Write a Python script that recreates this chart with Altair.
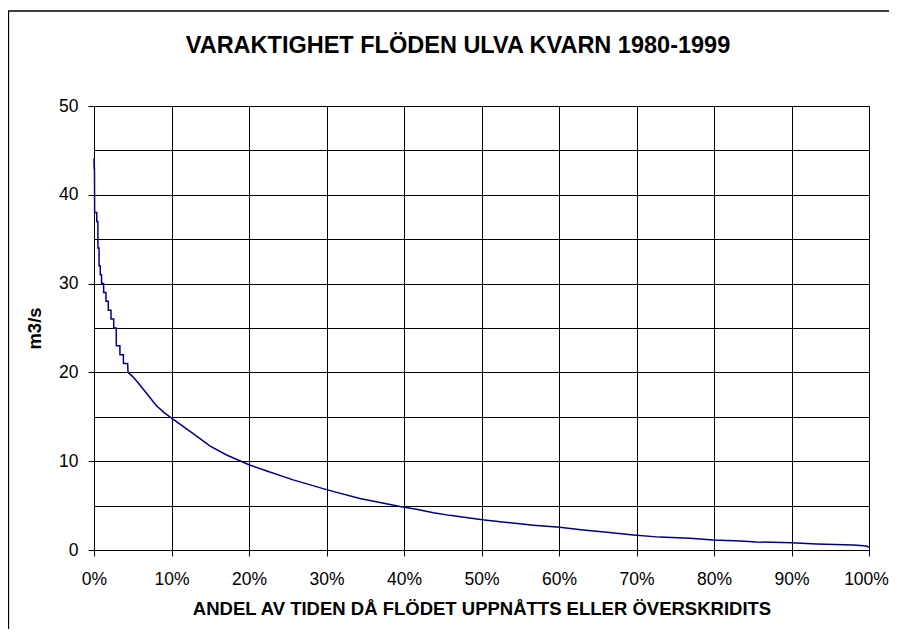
import altair as alt
import pandas as pd

# Flow duration curve, Ulva Kvarn 1980-1999
pct = [0, 0.02, 0.06, 0.08, 0.35, 0.36, 0.5, 0.51, 0.65, 0.66, 0.8, 0.81, 0.97, 0.98,
       1.24, 1.25, 1.54, 1.55, 1.84, 1.85, 2.19, 2.2, 2.54, 2.55, 2.87, 2.88, 3.34, 3.35,
       3.79, 3.8, 4.34, 4.39, 5.03, 5.9, 6.54, 7.19, 8.0, 9.0, 10.1, 12.8, 15.0, 17.1, 20.0,
       22.3, 25.7, 30.0, 34.3, 39.5, 41.6, 43.8, 45.9, 50.1, 53.3, 56.7, 60.1, 63.1,
       66.2, 69.6, 73.0, 76.9, 79.9, 83.4, 85.5, 90.0, 93.2, 98.0, 99.7, 100.0]
flow = [44.1, 43.0, 43.0, 38.0, 38.0, 37.0, 37.0, 34.0, 34.0, 32.0, 32.0, 31.0, 31.0, 30.0,
        30.0, 29.0, 29.0, 28.0, 28.0, 27.0, 27.0, 26.0, 26.0, 25.0, 25.0, 23.0, 23.0, 22.0,
        22.0, 21.0, 21.0, 20.0, 19.5, 18.6, 17.9, 17.2, 16.3, 15.5, 14.8, 13.1, 11.7, 10.7, 9.6,
        8.9, 7.9, 6.8, 5.8, 4.9, 4.6, 4.2, 3.9, 3.4, 3.1, 2.8, 2.55, 2.25,
        2.0, 1.7, 1.45, 1.32, 1.13, 1.01, 0.9, 0.82, 0.68, 0.56, 0.45, 0.3]

x_ticks = [0, 10, 20, 30, 40, 50, 60, 70, 80, 90, 100]
y_grid = [0, 5, 10, 15, 20, 25, 30, 35, 40, 45, 50]

title_text = "VARAKTIGHET FLÖDEN ULVA KVARN 1980-1999"
x_title = "ANDEL AV TIDEN DÅ FLÖDET UPPNÅTTS ELLER ÖVERSKRIDITS"
y_title = "m3/s"

df = pd.DataFrame({"pct": pct, "flow": flow, "order": list(range(len(pct)))})

FONT = "Liberation Sans"

line = alt.Chart(df).mark_line(color="#000080", strokeWidth=1.5).encode(
    x=alt.X("pct:Q",
            scale=alt.Scale(domain=[0, 100], nice=False, zero=False),
            axis=alt.Axis(values=x_ticks, title=x_title,
                          labelExpr="datum.value + '%'",
                          labelOffset={"condition": {"test": "datum.value === 100", "value": -3}, "value": 0},
                          grid=True, gridColor="#000000", gridWidth=1,
                          domainColor="#000000", tickColor="#000000",
                          tickSize=6, labelPadding=14, titlePadding=12,
                          labelFontSize=17.5, titleFontSize=18.5,
                          labelFont=FONT, titleFont=FONT,
                          labelColor="#000000", titleColor="#000000",
                          titleFontWeight="bold", labelFlush=False)),
    y=alt.Y("flow:Q",
            scale=alt.Scale(domain=[0, 50], nice=False),
            axis=alt.Axis(values=y_grid, title=y_title,
                          labelExpr="datum.value % 10 === 0 ? datum.label : ''",
                          tickOpacity={"condition": {"test": "datum.value % 10 === 0", "value": 1}, "value": 0},
                          grid=True, gridColor="#000000", gridWidth=1,
                          domainColor="#000000", tickColor="#000000",
                          tickSize=6, labelPadding=10, titlePadding=14,
                          labelFontSize=17.5, titleFontSize=18.5,
                          labelFont=FONT, titleFont=FONT,
                          labelColor="#000000", titleColor="#000000",
                          titleFontWeight="bold", labelFlush=False)),
    order="order:Q",
)

one = alt.Data(values=[{"t": title_text}])
title = alt.Chart(one).mark_text(font=FONT, fontSize=23.5, fontWeight="bold", color="#000000",
                                 align="center", baseline="alphabetic", clip=False).encode(
    text="t:N", x=alt.value(364), y=alt.value(-53))
border_left = alt.Chart(one).mark_rule(color="#000000", strokeWidth=1.3, clip=False).encode(
    x=alt.value(-85.5), y=alt.value(-95), y2=alt.value(600))
border_top = alt.Chart(one).mark_rule(color="#000000", strokeWidth=1.3, clip=False).encode(
    x=alt.value(-86), x2=alt.value(900), y=alt.value(-95))

chart = alt.layer(line, title, border_left, border_top).properties(
    width=775, height=444,
    autosize=alt.AutoSizeParams(type="none"),
    padding={"left": 86, "top": 98, "right": 20, "bottom": 79},
).configure_view(strokeOpacity=0).configure(background="white")

chart.save("out.html", embed_options={"renderer": "svg", "actions": False})
